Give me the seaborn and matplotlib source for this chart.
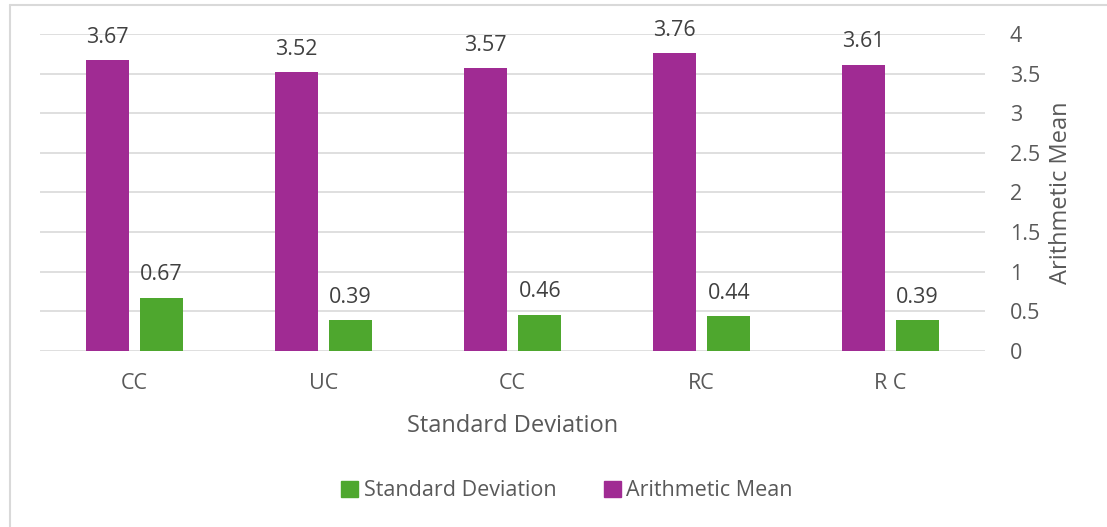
import pandas as pd
import matplotlib.pyplot as plt
import seaborn as sns
from matplotlib.lines import Line2D
from matplotlib.patches import Patch

sns.set_style("white")
plt.rcParams['font.family'] = ['Open Sans', 'DejaVu Sans']

# data
grupos = ['CC', 'UC', 'CC', 'RC', 'R C']
media = [3.67, 3.52, 3.57, 3.76, 3.61]
desvio = [0.67, 0.39, 0.46, 0.44, 0.39]

cor_media = '#A02B93'
cor_desvio = '#4EA72E'
cor_texto = '#595959'

df = pd.DataFrame({
    'pos': list(range(len(grupos))) * 2,
    'valor': media + desvio,
    'serie': ['Arithmetic Mean'] * len(grupos) + ['Standard Deviation'] * len(grupos),
})

fig = plt.figure(figsize=(11.07, 5.27), dpi=100)
ax = fig.add_axes([40 / 1107, 1 - 351 / 527, 945 / 1107, 317 / 527])

sns.barplot(data=df, x='pos', y='valor', hue='serie',
            hue_order=['Arithmetic Mean', 'Standard Deviation'],
            palette=[cor_media, cor_desvio], width=0.576, gap=0.208,
            saturation=1, legend=False, linewidth=0, ax=ax)

for cont in ax.containers:
    ax.bar_label(cont, fmt='%.2f', padding=9, fontsize=15.5, color='#404040')

ax.set_xlim(-0.5, 4.5)
ax.set_ylim(0, 4)
ax.set_yticks([0, 0.5, 1, 1.5, 2, 2.5, 3, 3.5, 4])
ax.set_yticklabels(['0', '0.5', '1', '1.5', '2', '2.5', '3', '3.5', '4'])
ax.yaxis.tick_right()
ax.yaxis.set_label_position('right')
ax.set_xticks(range(len(grupos)))
ax.set_xticklabels(grupos)
ax.tick_params(axis='both', length=0, labelsize=15.5, colors=cor_texto)
ax.tick_params(axis='x', pad=16)
for lab in ax.get_yticklabels():
    lab.set_horizontalalignment('left')
ax.yaxis.set_tick_params(pad=18)

ax.grid(axis='y', color='#D9D9D9', linewidth=1.2)
ax.set_axisbelow(True)
for s in ax.spines.values():
    s.set_visible(False)

ax.set_xlabel('Standard Deviation', fontsize=17, color=cor_texto, labelpad=14)
ax.set_ylabel('Arithmetic Mean', fontsize=17, color=cor_texto, labelpad=6)

# legenda
handles = [Patch(color=cor_desvio, label='Standard Deviation'),
           Patch(color=cor_media, label='Arithmetic Mean')]
leg = fig.legend(handles=handles, loc='center', bbox_to_anchor=(567 / 1107, 1 - 491 / 527),
                 ncol=2, frameon=False, fontsize=15.5, handlelength=0.8, handleheight=0.8,
                 handletextpad=0.25, columnspacing=2.2)
for t in leg.get_texts():
    t.set_color(cor_texto)

# borda do grafico
fig.add_artist(Line2D([10 / 1107, 10 / 1107], [0, 1 - 5 / 527], color='#D9D9D9', lw=1.5))
fig.add_artist(Line2D([10 / 1107, 1], [1 - 5 / 527, 1 - 5 / 527], color='#D9D9D9', lw=1.5))

fig.savefig('out.png', dpi=100)
